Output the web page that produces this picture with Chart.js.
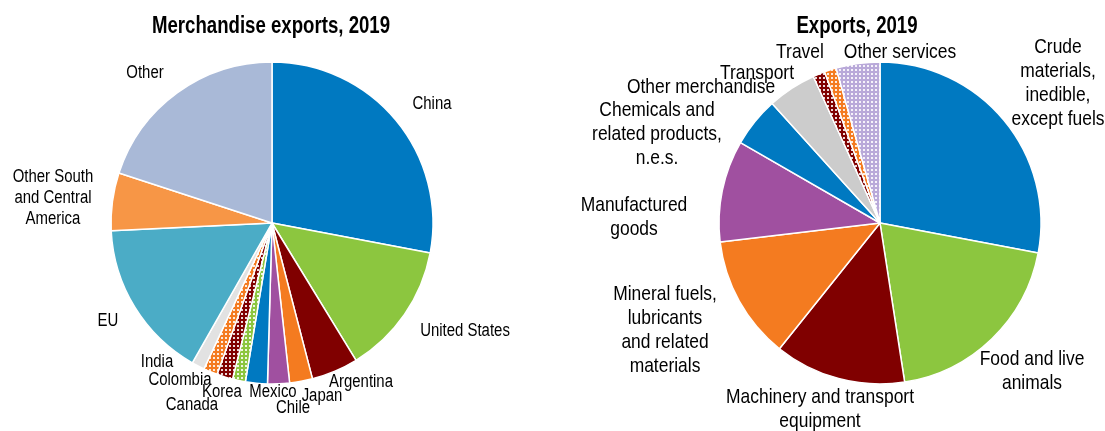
<!DOCTYPE html>
<html>
<head>
<meta charset="utf-8">
<script src="https://cdn.jsdelivr.net/npm/chart.js@4.4.1/dist/chart.umd.min.js"></script>
<style>
  html, body { margin: 0; padding: 0; background: #fff; }
  #wrap { position: relative; width: 1105px; height: 431px; overflow: hidden; }
  #c1 { position: absolute; left: 0; top: 0; }
  #c2 { position: absolute; left: 550px; top: 0; }
</style>
</head>
<body>
<div id="wrap">
  <canvas id="c1" width="550" height="431"></canvas>
  <canvas id="c2" width="555" height="431"></canvas>
</div>
<script>
// ---------- DATA ----------
const mercTitle = 'Merchandise exports, 2019';
const mercCategories = [
  ['China'], ['United States'], ['Argentina'], ['Japan'], ['Chile'], ['Mexico'],
  ['Canada'], ['Korea'], ['Colombia'], ['India'], ['EU'],
  ['Other South', 'and Central', 'America'], ['Other']
];
const mercValues = [28.0, 13.3, 4.7, 2.3, 2.2, 2.2, 1.3, 1.6, 1.4, 1.3, 16.0, 5.8, 20.0];

const expTitle = 'Exports, 2019';
const expCategories = [
  ['Crude', 'materials,', 'inedible,', 'except fuels'],
  ['Food and live', 'animals'],
  ['Machinery and transport', 'equipment'],
  ['Mineral fuels,', 'lubricants', 'and related', 'materials'],
  ['Manufactured', 'goods'],
  ['Chemicals and', 'related products,', 'n.e.s.'],
  ['Other merchandise'],
  ['Transport'],
  ['Travel'],
  ['Other services']
];
const expValues = [28.0, 19.6, 13.2, 12.4, 10.2, 5.0, 4.9, 1.2, 1.2, 4.4];

// ---------- STYLE ----------
const BLUE = '#0079c1', GREEN = '#8cc63f', DRED = '#800000', ORANGE = '#f47b20',
      PURPLE = '#a050a0', GREY = '#e2e2e2', TEAL = '#4bacc6', LORANGE = '#f79646',
      LBLUE = '#a9b9d7', MGREY = '#cccccc', LAV = '#b9a9d9';

function dotted(color) {
  const c = document.createElement('canvas');
  c.width = 4; c.height = 4;
  const x = c.getContext('2d');
  x.fillStyle = color; x.fillRect(0, 0, 4, 4);
  x.fillStyle = 'rgba(255,255,255,0.85)';
  x.fillRect(1, 1, 2, 2);
  return x.createPattern(c, 'repeat');
}

const mercColors = [BLUE, GREEN, DRED, ORANGE, PURPLE, BLUE,
  dotted(GREEN), dotted(DRED), dotted(ORANGE), GREY, TEAL, LORANGE, LBLUE];
const expColors = [BLUE, GREEN, DRED, ORANGE, PURPLE, BLUE, MGREY,
  dotted(DRED), dotted(ORANGE), dotted(LAV)];

// label offsets relative to pie centre (styling only)
const mercLabelOffsets = [[160,-119],[193,108],[89,159],[50,173],[21,185],[1,169],
  [-80,182],[-50,169],[-92,157],[-115,139],[-164,98],[-219,-25],[-127,-150]];
const expLabelOffsets = [[178,-140],[152,148],[-60,186],[-215,107],[-246,-6],
  [-223,-89],[-179,-136],[-123,-150],[-80,-171],[20,-171]];

function drawNarrow(ctx, text, x, y, font, sx) {
  ctx.save();
  ctx.font = font;
  ctx.translate(x, y);
  ctx.scale(sx, 1);
  ctx.fillText(text, 0, 0);
  ctx.restore();
}

function labelPlugin(title, titlePos, offsets, fontSize, lineH) {
  return {
    id: 'labels',
    afterDraw(chart) {
      const ctx = chart.ctx;
      const meta = chart.getDatasetMeta(0);
      const cx = meta.data[0].x, cy = meta.data[0].y;
      ctx.save();
      ctx.fillStyle = '#000';
      ctx.textAlign = 'center';
      ctx.textBaseline = 'middle';
      drawNarrow(ctx, title, titlePos[0], titlePos[1], 'bold 23px "Liberation Sans", Arial, sans-serif', 0.81);
      chart.data.labels.forEach((lines, i) => {
        const [dx, dy] = offsets[i];
        const n = lines.length;
        lines.forEach((ln, j) => {
          const y = cy + dy + (j - (n - 1) / 2) * lineH;
          drawNarrow(ctx, ln, cx + dx, y, fontSize + 'px "Liberation Sans", Arial, sans-serif', 0.83);
        });
      });
      ctx.restore();
    }
  };
}

function makePie(id, labels, values, colors, padding, title, titlePos, offsets, fs, lh) {
  return new Chart(document.getElementById(id), {
    type: 'pie',
    data: {
      labels: labels,
      datasets: [{
        data: values,
        backgroundColor: colors,
        borderColor: '#ffffff',
        borderWidth: 1.5,
        radius: 161
      }]
    },
    options: {
      responsive: false,
      animation: false,
      layout: { padding: padding },
      plugins: { legend: { display: false }, tooltip: { enabled: false }, title: { display: false } }
    },
    plugins: [labelPlugin(title, titlePos, offsets, fs, lh)]
  });
}

makePie('c1', mercCategories, mercValues, mercColors,
  { left: 0, right: 6, top: 15, bottom: 0 }, mercTitle, [271, 27], mercLabelOffsets, 18, 21);
makePie('c2', expCategories, expValues, expColors,
  { left: 105, right: 0, top: 15, bottom: 0 }, expTitle, [307, 27], expLabelOffsets, 21, 24);
</script>
</body>
</html>
